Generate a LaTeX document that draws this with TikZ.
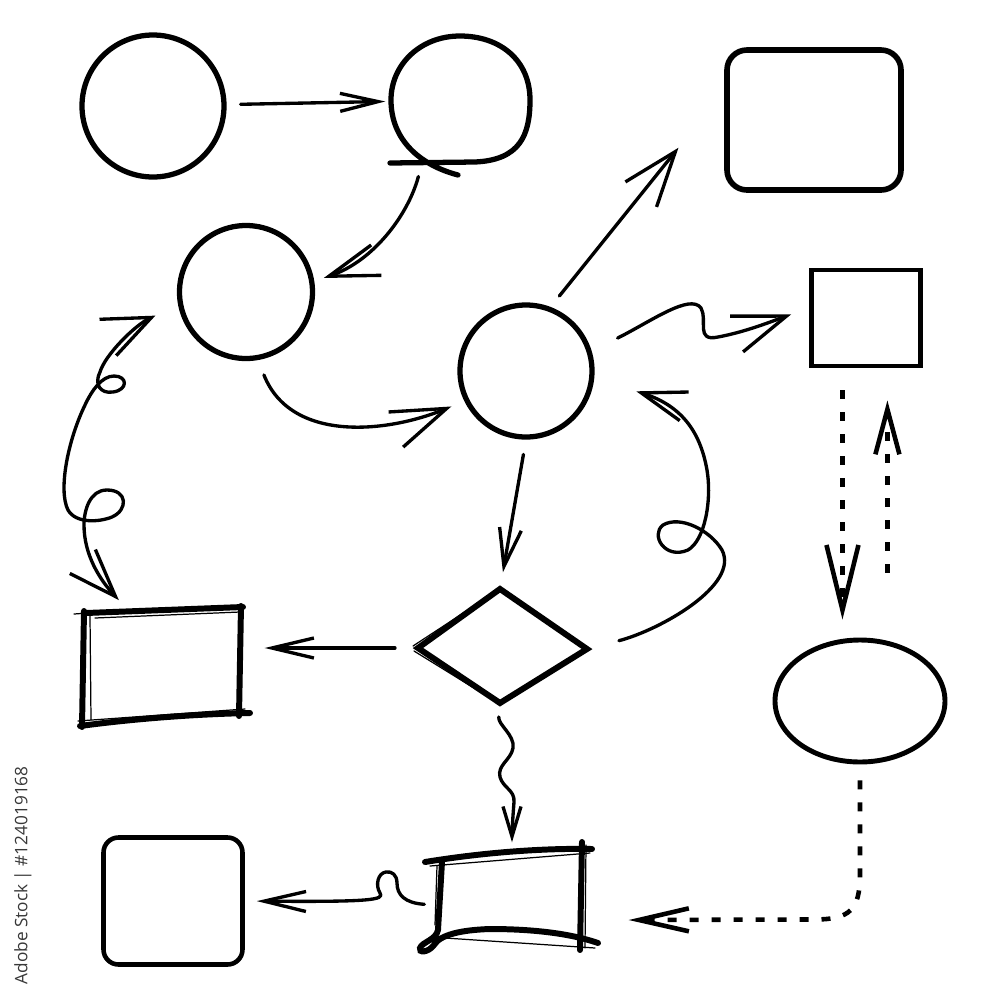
\documentclass[tikz,border=0pt]{standalone}
\usepackage{fontspec}
\newfontfamily\wmfont{Open Sans}
\usetikzlibrary{arrows.meta,shapes.geometric}
\begin{document}
\begin{tikzpicture}[x=0.1mm,y=-0.1mm,
  thickshape/.style={draw=black, line width=1.5pt, inner sep=0pt},
  hidden/.style={draw=none, inner sep=0pt},
  conn/.style={draw=black, line width=0.95pt, line cap=round, line join=round},
  dconn/.style={draw=black, line width=1.3pt, dash pattern=on 0.9mm off 1.3mm},
  hd/.style 2 args={-{Straight Barb[length=#1,width=#2]}},
  sketch/.style={line width=1.7pt, line cap=round},
  thinsketch/.style={line width=0.35pt, line cap=round},
]
\fill[white] (0,0) rectangle (1000,1000);
\useasboundingbox (0,0) rectangle (1000,1000);

% ---------- shapes ----------
\node[circle, thickshape, minimum size=14.2mm] (cA) at (153,106) {};
\node[circle, hidden, minimum size=13.8mm] (cB) at (460,100) {};
\draw[line width=1.5pt, line cap=round] (390,163) -- (475,162) .. controls (520,160) and (530,135) .. (530,100)
  .. controls (530,60) and (500,36) .. (460,36) .. controls (420,36) and (391,65) .. (391,100)
  .. controls (391,140) and (420,165) .. (458,175);
\node[circle, thickshape, minimum size=13.3mm] (cC) at (246,292) {};
\node[circle, thickshape, minimum size=13.2mm] (cD) at (526,371) {};

\node[rectangle, rounded corners=2mm, draw, line width=1.6pt, minimum width=17.4mm, minimum height=14mm] (rTR) at (814,120) {};
\node[rectangle, draw, line width=1.4pt, minimum width=10.9mm, minimum height=9.6mm] (sq) at (866,318) {};
\node[ellipse, draw, line width=1.4pt, minimum width=17mm, minimum height=12.2mm, inner sep=0pt] (ell) at (860,701) {};
\node[rectangle, rounded corners=1.5mm, draw, line width=1.3pt, minimum width=13.9mm, minimum height=12.7mm] (rBL) at (173,901) {};

% diamond
\coordinate (dL) at (418,648);
\coordinate (dT) at (500,589);
\coordinate (dR) at (587,649);
\coordinate (dB) at (500,703);
\draw[line width=1.7pt, line join=miter] (dL) -- (dT) -- (dR) -- (dB) -- cycle;
\draw[thinsketch] (413,646) -- (497,591);
\draw[thinsketch] (414,651) -- (495,701);

% left sketchy rectangle
\node[rectangle, hidden, minimum width=16mm, minimum height=11.5mm] (rL) at (162,667) {};
\draw[sketch] (86,613) -- (243,607);
\draw[sketch] (84,611) -- (82,727);
\draw[sketch] (80,726) .. controls (140,718) and (200,714) .. (250,713);
\draw[sketch] (241,606) -- (239,716);
\draw[thinsketch] (95,618) -- (240,612);
\draw[thinsketch] (90,615) -- (91,720);
\draw[thinsketch] (78,721) -- (245,709);
\draw[thinsketch] (74,614) -- (88,613);

% bottom sketchy rectangle
\node[rectangle, hidden, minimum width=14mm, minimum height=8mm] (rB) at (512,893) {};
\draw[sketch] (425,862) .. controls (480,853) and (540,848) .. (592,849);
\draw[sketch] (442,862) -- (438,930) .. controls (436,940) and (422,942) .. (420,948)
  .. controls (418,953) and (428,953) .. (434,945) .. controls (440,935) and (460,930) .. (490,929)
  .. controls (540,929) and (575,935) .. (598,943);
\draw[sketch] (582,842) -- (580,950);
\draw[thinsketch] (430,866) -- (590,853);
\draw[thinsketch] (437,866) -- (435,925);
\draw[thinsketch] (445,938) -- (595,948);
\draw[thinsketch] (586,845) -- (585,948);

% ---------- connectors ----------
% A -> B
\draw[conn, hd={3.8mm}{1.8mm}, shorten <=1.4mm, shorten >=0.5mm] (cA) -- (cB);
% B -> C
\draw[conn, hd={5mm}{3.2mm}, shorten <=1.8mm, shorten >=1mm]
  (cB.238) .. controls +(-15,56) and +(59,-20) .. (cC.9);
% C -> D
\draw[conn, hd={5.5mm}{3.8mm}, shorten <=1.6mm, shorten >=1.4mm]
  (cC.280) .. controls +(33,83) and +(-77,32) .. (cD.206);
% D -> top-right rectangle
\draw[conn, hd={5.5mm}{4mm}, shorten <=1.4mm, shorten >=7.3mm] (cD.69) -- (rTR.162);
% D -> square (wavy)
\draw[conn, hd={5.3mm}{3.8mm}, shorten <=2.9mm, shorten >=1.9mm]
  (cD.17) .. controls (650,322) and (690,293) .. (701,308)
  .. controls (708,320) and (695,342) .. (718,337)
  .. controls (745,332) and (770,322) .. (sq.170);
% square -> ellipse (dashed, down)
\draw[dconn, hd={6.5mm}{3.2mm}, shorten <=2.2mm, shorten >=1.8mm] (sq.245) -- (sq.245 |- ell.north);
% ellipse -> square (dashed, up)
\draw[dconn, hd={4.5mm}{2.4mm}, shorten <=6.5mm, shorten >=3.2mm] (sq.293 |- ell.north) -- (sq.293);
% ellipse -> bottom rectangle (dashed)
\draw[dconn, hd={5mm}{2.3mm}, shorten <=1.6mm, shorten >=4.6mm]
  (ell.south) -- ++(0,110) .. controls +(0,35) and +(35,0) .. ++(-45,45) -- (rB.339);
% diamond -> left rectangle
\draw[conn, hd={4.2mm}{2mm}, shorten <=2.3mm, shorten >=2.2mm] (dL) -- (dL -| rL.east);
% D -> diamond
\draw[conn, hd={3.8mm}{2.2mm}, shorten <=1.5mm, shorten >=1.7mm] (cD.south) -- (dT);
% diamond -> bottom rectangle (squiggle)
\draw[conn, hd={3mm}{1.8mm}, shorten <=1.4mm, shorten >=1mm]
  (dB) .. controls (498,725) and (515,735) .. (513,748)
  .. controls (511,760) and (497,765) .. (500,777)
  .. controls (503,788) and (515,790) .. (514,802)
  .. controls (513,815) and (512,830) .. (rB.north);
% bottom rectangle -> bottom-left square (with loop)
\draw[conn, hd={4.2mm}{2mm}, shorten <=1.7mm, shorten >=1.2mm]
  (rB.190) .. controls (405,903) and (397,895) .. (397,883)
  .. controls (397,875) and (392,871) .. (386,872)
  .. controls (378,873) and (375,885) .. (380,893)
  .. controls (385,900) and (370,902) .. (rBL.east);
% diamond right -> D (loop)
\draw[conn, hd={4.5mm}{3mm}, shorten <=3.3mm, shorten >=4.4mm]
  (dR) .. controls (660,630) and (740,585) .. (722,550)
  .. controls (710,530) and (680,515) .. (663,525)
  .. controls (650,535) and (665,560) .. (688,550)
  .. controls (705,540) and (712,500) .. (707,470)
  .. controls (700,430) and (680,405) .. (cD.354);
% C <-> left rectangle (two loops)
\draw[conn, {Straight Barb[length=4.8mm,width=4mm]}-{Straight Barb[length=4.8mm,width=3.5mm]}, shorten <=2.5mm, shorten >=1.2mm]
  (cC.191) .. controls (135,325) and (105,355) .. (100,372)
  .. controls (94,384) and (100,394) .. (113,392)
  .. controls (128,390) and (128,376) .. (114,376)
  .. controls (102,376) and (92,390) .. (85,405)
  .. controls (68,440) and (58,490) .. (68,510)
  .. controls (76,524) and (100,522) .. (112,517)
  .. controls (128,510) and (128,490) .. (107,490)
  .. controls (90,490) and (84,510) .. (84,525)
  .. controls (84,555) and (100,580) .. (rL.121);

% ---------- side text ----------
\node[rotate=90, anchor=west, inner sep=0pt, text=black!78, font=\wmfont\fontsize{4.9}{6}\selectfont] (stock) at (23,985) {Adobe Stock | \#124019168};
\end{tikzpicture}
\end{document}
